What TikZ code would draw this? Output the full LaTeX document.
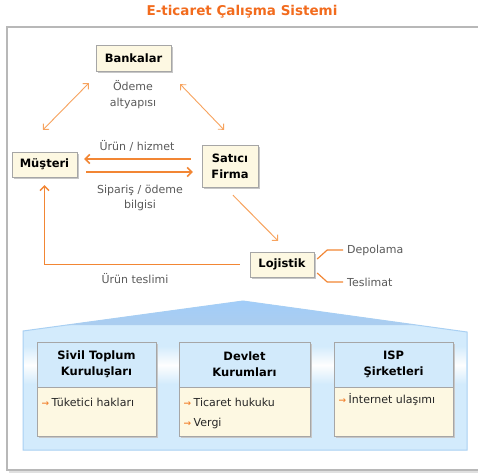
\documentclass[tikz,border=0pt]{standalone}
\usepackage{fontspec}
\setmainfont{DejaVu Sans}
\usetikzlibrary{arrows.meta,calc}

\definecolor{ttl}{HTML}{F26B1D}
\definecolor{arrA}{HTML}{F7A35E}
\definecolor{arrB}{HTML}{F28634}
\definecolor{lbl}{HTML}{5A5A5A}
\definecolor{cream}{HTML}{FDF8E2}
\definecolor{bord}{HTML}{A6A6A6}
\definecolor{frm}{HTML}{B8B8B8}
\definecolor{hbody}{HTML}{D3EBFC}
\definecolor{hline}{HTML}{A9D0F3}
\definecolor{roofA}{HTML}{A2CDF9}
\definecolor{roofB}{HTML}{ABCDEF}
\definecolor{head}{HTML}{D2EAFB}

\tikzset{
  kbox/.style={draw=bord, fill=cream, inner sep=0pt, text=black,
    font=\bfseries\fontsize{11.5}{16}\selectfont},
  shade box/.style={fill=black!22, draw=none},
  lbltext/.style={text=lbl, inner sep=0pt, align=center,
    font=\fontsize{11}{16.5}\selectfont},
  thinarrow/.style={draw=arrA, line width=0.9pt,
    {Straight Barb[length=4pt,width=8pt]}-{Straight Barb[length=4pt,width=8pt]}},
  flowarrow/.style={draw=arrB, line width=1.5pt,
    -{Straight Barb[length=4.5pt,width=9pt]}},
  diagarrow/.style={draw=arrA, line width=1pt,
    -{Straight Barb[length=4pt,width=8pt]}},
  branch/.style={draw=arrB, line width=1.2pt},
  headbox/.style={draw=bord, fill=head, inner sep=0pt, align=center,
    font=\bfseries\fontsize{11.5}{16}\selectfont},
  bodybox/.style={draw=bord, fill=cream, inner sep=0pt},
  item/.style={anchor=west, inner sep=0pt, text=black!85,
    font=\fontsize{11}{14}\selectfont},
}
\newcommand{\bul}{\textcolor{arrB}{\bfseries\fontsize{9}{9}\selectfont→}\hspace{2.5pt}}

\begin{document}
\begin{tikzpicture}[x=1pt,y=-1pt]
\useasboundingbox (0,0) rectangle (478,473);

% title
\node[text=ttl, font=\bfseries\fontsize{13.5}{16}\selectfont, inner sep=0pt]
  (title) at (242,12) {E-ticaret Çalışma Sistemi};

% outer frame
\draw[black!12, line width=1.5pt] (8.5,472) -- (495,472);
\draw[frm, line width=1.4pt, fill=white] (7,27) rectangle (495,470);

% upper flow boxes
\fill[shade box] (98,47) rectangle (173,73);
\node[kbox, minimum width=75pt, minimum height=26pt] (bankalar) at (133.5,58) {Bankalar};
\fill[shade box] (14,154) rectangle (79,179);
\node[kbox, minimum width=65pt, minimum height=25pt] (musteri) at (44.5,164.5) {Müşteri};
\fill[shade box] (204,147) rectangle (260,189);
\node[kbox, minimum width=56pt, minimum height=42pt, align=center] (satici) at (230,166) {Satıcı\\Firma};
\fill[shade box] (252,254) rectangle (316,279);
\node[kbox, minimum width=64pt, minimum height=25pt] (lojistik) at (282,264.5) {Lojistik};

% labels
\node[lbltext] (odeme) at (133,94.5) {Ödeme\\altyapısı};
\node[lbltext] (urunhizmet) at (137,146) {Ürün / hizmet};
\node[lbltext, font=\fontsize{11}{15}\selectfont] (siparis) at (140,197.5) {Sipariş / ödeme\\bilgisi};
\node[lbltext] (teslimi) at (135,279) {Ürün teslimi};
\node[lbltext, anchor=west] (depolama) at (347,250) {Depolama};
\node[lbltext, anchor=west] (teslimat) at (347,282) {Teslimat};

% connectors
\draw[thinarrow] ($(musteri.north)+(-1.5,-22)$) -- ($(bankalar.south west)+(-7,12)$);
\draw[thinarrow] ($(bankalar.south east)+(9,13)$) -- ($(satici.north)+(-6,-15)$);
\draw[flowarrow] ($(satici.west)+(-11,-7)$) -- ($(musteri.east)+(7,-5.5)$);
\draw[flowarrow] ($(musteri.east)+(9,7.5)$) -- ($(satici.west)+(-9,6)$);
\draw[diagarrow] ($(satici.south)+(3,8)$) -- ($(lojistik.north)+(-4,-11)$);
\draw[draw=arrB, line width=1.3pt, -{Straight Barb[length=4.5pt,width=9pt]}]
  ($(lojistik.west)+(-10,0)$) -| ($(musteri.south)+(0,8)$);
\draw[branch] ($(lojistik.east)+(3,-5.5)$) -- ++(10,-9) -- ($(depolama.west)+(-4,0)$);
\draw[branch] ($(lojistik.east)+(3,8.5)$) -- ++(10,9) -- ($(teslimat.west)+(-4,0)$);

% house
\draw[hline, line width=1pt, fill=hbody]
  (23,450) -- (23,331) -- (243,301) -- (467,332) -- (467,450) -- cycle;
\shade[top color=roofA, bottom color=roofB] (67,325) -- (243,301) -- (416,325) -- cycle;
\shade[top color=hbody, bottom color=hbody, middle color=white!92!black!6]
  (24,346) rectangle (466,384);

% bottom boxes: shadows
\fill[shade box] (39,344) rectangle (158,438);
\fill[shade box] (181,344) rectangle (312,438);
\fill[shade box] (336,344) rectangle (455,438);

% box 1
\node[headbox, minimum width=119pt, minimum height=45pt] (h1) at (96.5,364.5) {Sivil Toplum\\Kuruluşları};
\node[bodybox, minimum width=119pt, minimum height=49pt, anchor=north] (b1) at (h1.south) {};
\node[item] (t1) at (41.5,402) {\bul Tüketici hakları};

% box 2
\node[headbox, minimum width=131pt, minimum height=45pt] (h2) at (244.5,364.5) {Devlet\\Kurumları};
\node[bodybox, minimum width=131pt, minimum height=49pt, anchor=north] (b2) at (h2.south) {};
\node[item] (t2) at (183.5,402) {\bul Ticaret hukuku};
\node[item] (t3) at (183.5,423) {\bul Vergi};

% box 3
\node[headbox, minimum width=119pt, minimum height=45pt] (h3) at (393.5,364.5) {ISP\\Şirketleri};
\node[bodybox, minimum width=119pt, minimum height=49pt, anchor=north] (b3) at (h3.south) {};
\node[item] (t4) at (338.5,400) {\bul İnternet ulaşımı};
\end{tikzpicture}
\end{document}
